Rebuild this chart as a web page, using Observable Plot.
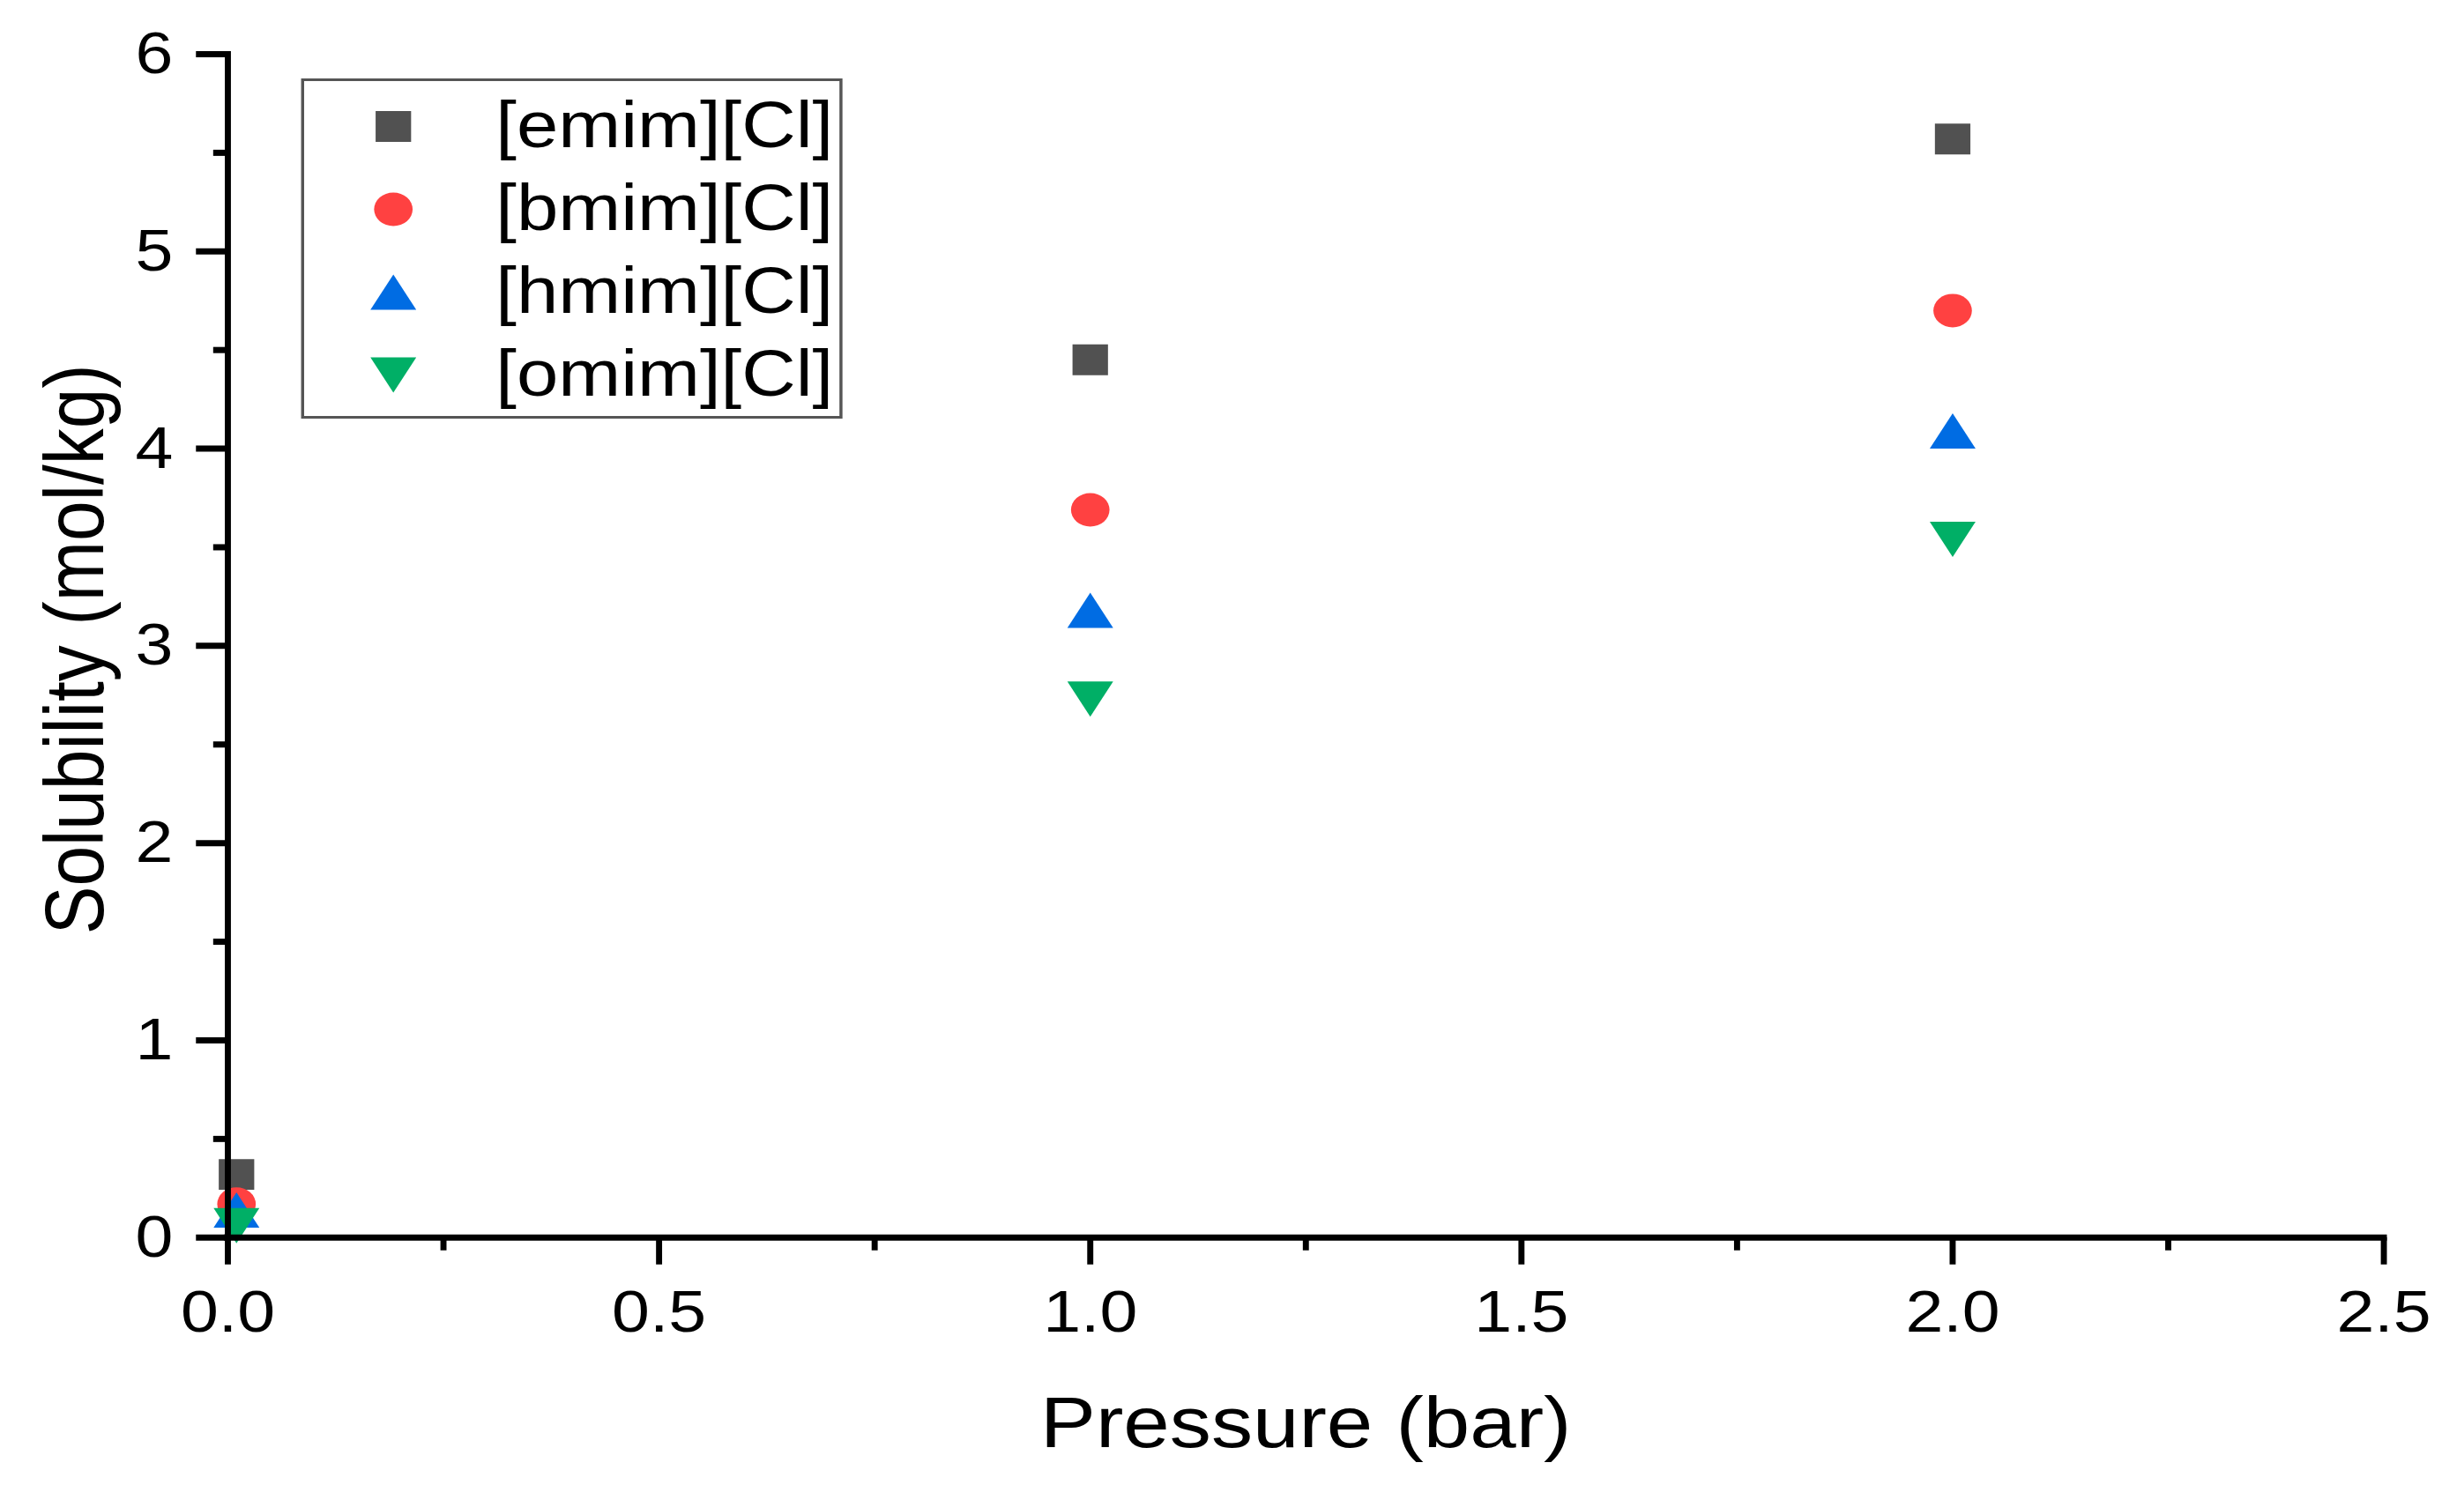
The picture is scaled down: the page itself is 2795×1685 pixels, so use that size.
<!DOCTYPE html>
<html>
<head>
<meta charset="utf-8">
<script src="https://cdn.jsdelivr.net/npm/d3@7"></script>
<script src="https://cdn.jsdelivr.net/npm/@observablehq/plot@0.6"></script>
<style>
html, body { margin: 0; padding: 0; background: #fff; overflow: hidden; }
#wrap { position: relative; width: 2430px; height: 1685px; transform: scaleX(1.15); transform-origin: 0 0;
        font-family: "Liberation Sans", Arial, sans-serif; }
#legend { position: absolute; left: 297px; top: 89px; width: 534px; height: 386px; box-sizing: border-box;
          border: 3px solid #555; background: #fff; }
#legend svg { display: block; }
</style>
</head>
<body>
<div id="wrap"></div>
<script>
// ---- data ----
const pressures = [0.01, 1.0, 2.0];
const series = ["[emim][Cl]", "[bmim][Cl]", "[hmim][Cl]", "[omim][Cl]"];
const emim = [0.32, 4.45, 5.57];
const bmim = [0.17, 3.69, 4.70];
const hmim = [0.14, 3.18, 4.09];
const omim = [0.06, 2.73, 3.54];
const colors = ["#515151", "#FF4141", "#006CE3", "#00AF66"];
const xTicks = [0, 0.5, 1.0, 1.5, 2.0, 2.5];
const xMinor = [0.25, 0.75, 1.25, 1.75, 2.25];
const yTicks = [0, 1, 2, 3, 4, 5, 6];
const yMinor = [0.5, 1.5, 2.5, 3.5, 4.5, 5.5];
const xLabel = "Pressure (bar)";
const yLabel = "Solubility (mol/kg)";

// ---- marker shapes (bounding-box centred, like Origin) ----
const symSquare = { draw(c, size) { const r = Math.sqrt(size / Math.PI) * 0.875;
  c.moveTo(-r, -r); c.lineTo(r, -r); c.lineTo(r, r); c.lineTo(-r, r); c.closePath(); } };
const symCircle = { draw(c, size) { const r = Math.sqrt(size / Math.PI) * 0.95;
  c.moveTo(r, 0); c.arc(0, 0, r, 0, 2 * Math.PI); c.closePath(); } };
const symUp = { draw(c, size) { const r = Math.sqrt(size / Math.PI); const w = r * 1.13;
  c.moveTo(0, -r); c.lineTo(w, r); c.lineTo(-w, r); c.closePath(); } };
const symDown = { draw(c, size) { const r = Math.sqrt(size / Math.PI); const w = r * 1.13;
  c.moveTo(0, r); c.lineTo(w, -r); c.lineTo(-w, -r); c.closePath(); } };
const symbols = [symSquare, symCircle, symUp, symDown];

const valuesBySeries = [emim, bmim, hmim, omim];
const rows = series.flatMap((s, i) => valuesBySeries[i].map((v, j) => ({ series: s, p: pressures[j], v })));

const W = 2795 / 1.15;
const font = "'Liberation Sans', Arial, sans-serif";

const chart = Plot.plot({
  width: W,
  height: 1685,
  marginLeft: 224.3,
  marginRight: W - 2351.3,
  marginTop: 61,
  marginBottom: 281,
  x: { domain: [0, 2.5] },
  y: { domain: [0, 6] },
  color: { domain: series, range: colors },
  symbol: { domain: series, range: symbols },
  style: { fontFamily: font, background: "white", color: "black", overflow: "visible" },
  marks: [
    Plot.dot(rows, { x: "p", y: "v", fill: "series", symbol: "series", r: 20, stroke: "none" }),
    Plot.ruleY([0], { stroke: "black", strokeWidth: 7, strokeLinecap: "square" }),
    Plot.ruleX([0], { stroke: "black", strokeWidth: 6, strokeLinecap: "square" }),
    Plot.axisX(xTicks, { tickSize: 31, tickPadding: 28, fontSize: 67, strokeWidth: 6,
      tickFormat: d3.format(".1f"), label: null, fill: "black" }),
    Plot.axisX(xMinor, { tickSize: 15, strokeWidth: 6, tickFormat: () => "", label: null }),
    Plot.axisY(yTicks, { tickSize: 31, tickPadding: 23, fontSize: 67, strokeWidth: 7,
      tickFormat: d3.format("d"), label: null, fill: "black" }),
    Plot.axisY(yMinor, { tickSize: 14, strokeWidth: 7, tickFormat: () => "", label: null }),
    Plot.text([xLabel], { text: d => d, frameAnchor: "bottom", dy: 238, lineAnchor: "bottom",
      textAnchor: "middle", fontSize: 82, fill: "black" }),
    Plot.text([yLabel], { text: d => d, frameAnchor: "left", dx: -123, dy: 4, rotate: -90, lineAnchor: "bottom",
      textAnchor: "middle", fontSize: 82, fill: "black" })
  ]
});

const wrap = document.getElementById("wrap");
wrap.appendChild(chart);

// ---- legend ----
const legend = d3.select(wrap).append("div").attr("id", "legend");
const lsvg = legend.append("svg").attr("width", 528).attr("height", 380);
const rowBase = [75.5, 169.5, 263.5, 357.5];
series.forEach((s, i) => {
  const p = d3.path();
  symbols[i].draw(p, 20 * 20 * Math.PI);
  lsvg.append("path")
    .attr("transform", `translate(88,${rowBase[i] - 24})`)
    .attr("d", p.toString())
    .attr("fill", colors[i]);
  lsvg.append("text")
    .attr("x", 189).attr("y", rowBase[i])
    .attr("font-size", 74)
    .attr("font-family", font)
    .attr("fill", "black")
    .text(s);
});
</script>
</body>
</html>
